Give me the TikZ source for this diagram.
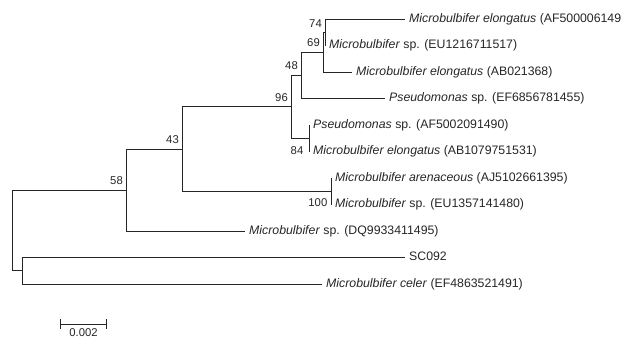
\documentclass[tikz,border=0pt]{standalone}
\usepackage{fontspec}
\setmainfont{Liberation Sans}
\usetikzlibrary{arrows.meta,calc}

\begin{document}
\begin{tikzpicture}[
    x=1pt, y=-1pt,
    leaf/.style={anchor=west, inner xsep=4pt, inner ysep=1pt,
                 font=\fontsize{12.3}{14}\selectfont, text=black!85,
                 text height=9pt, text depth=2.6pt},
    boot/.style={inner sep=1.5pt, font=\fontsize{11.3}{13}\selectfont,
                 text=black!85},
    branch/.style={draw=black!85, line width=0.85pt}
  ]
    \useasboundingbox (0,0) rectangle (626,340);

    % Leaves (west end = tip of the branch)
    \node[leaf] (me1)  at (405,19)    {\textit{Microbulbifer elongatus} (AF500006149};
    \node[leaf] (msp1) at (325,45.5)  {\textit{Microbulbifer} sp. (EU1216711517)};
    \node[leaf] (me2)  at (352,72)    {\textit{Microbulbifer elongatus} (AB021368)};
    \node[leaf] (ps1)  at (385,98.5)  {\textit{Pseudomonas} sp. (EF6856781455)};
    \node[leaf] (ps2)  at (309,125)   {\textit{Pseudomonas} sp. (AF5002091490)};
    \node[leaf] (me3)  at (309,151.5) {\textit{Microbulbifer elongatus} (AB1079751531)};
    \node[leaf] (mar)  at (331,178)   {\textit{Microbulbifer arenaceous} (AJ5102661395)};
    \node[leaf] (msp2) at (331,204.5) {\textit{Microbulbifer} sp. (EU1357141480)};
    \node[leaf] (msp3) at (245,231)   {\textit{Microbulbifer} sp. (DQ9933411495)};
    \node[leaf] (sc)   at (405,257.5) {SC092};
    \node[leaf] (mce)  at (322,284)   {\textit{Microbulbifer celer} (EF4863521491)};

    % Internal nodes
    \coordinate (n74)  at (325,32.25);
    \coordinate (n69)  at (323,52.1);
    \coordinate (n48)  at (301,75.3);
    \coordinate (n84)  at (309,138.25);
    \coordinate (n96)  at (291,106.8);
    \coordinate (n100) at (331,191.25);
    \coordinate (n43)  at (182,149);
    \coordinate (n58)  at (126,190);
    \coordinate (nsc)  at (22,270.75);
    \coordinate (root) at (12,230.4);

    \foreach \a/\b in {n74/me1.west, n74/msp1.west, n69/n74, n69/me2.west,
                       n48/n69, n48/ps1.west, n84/ps2.west, n84/me3.west,
                       n96/n48, n96/n84, n100/mar.west, n100/msp2.west,
                       n43/n96, n43/n100, n58/n43, n58/msp3.west,
                       nsc/sc.west, nsc/mce.west, root/n58, root/nsc}
      \draw[branch] (\a) |- (\b);

    % Bootstrap values
    \foreach \n/\v in {n74/74, n69/69, n48/48, n96/96, n43/43, n58/58}
      \node[boot, anchor=south east] (b\v) at ($(\n)+(-1.5,-3.5)$) {\v};
    \node[boot, anchor=east] (b84)  at ($(n84 |- me3.west)+(-4,-1)$) {84};
    \node[boot, anchor=east] (b100) at ($(n100 |- msp2.west)+(-2,-2)$) {100};

    % Scale bar
    \coordinate (sb1) at (60,324);
    \coordinate (sb2) at (107,324);
    \draw[branch, {Bar[width=10pt]}-{Bar[width=10pt]}] (sb1) -- (sb2);
    \node[boot, anchor=north] (sblab) at ($(sb1)!0.5!(sb2)+(0,3)$) {0.002};
\end{tikzpicture}
\end{document}
